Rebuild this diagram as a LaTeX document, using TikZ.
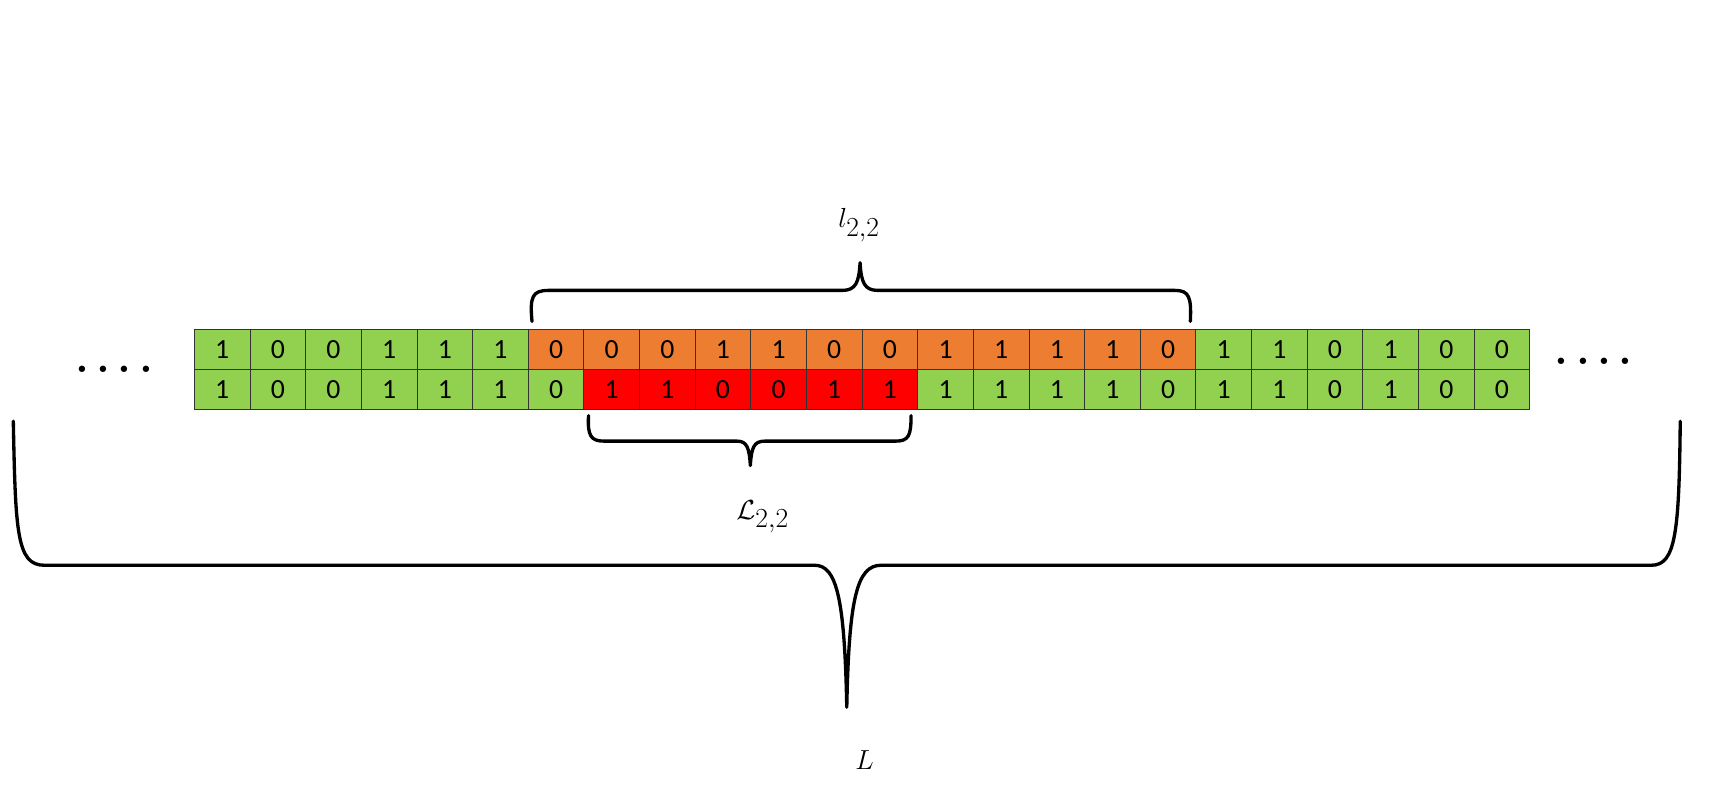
\documentclass[tikz,border=0pt]{standalone}
\usepackage{fontspec}
\newfontfamily\digitfont{Carlito}
\begin{document}
\begin{tikzpicture}[x=1pt,y=-1pt,
  cell/.style={draw=black!80,line width=0.8pt,minimum width=50.2pt,minimum height=36pt,inner sep=0,font=\digitfont\fontsize{25}{25}\selectfont,anchor=north west},
  brace/.style={line width=3pt,line cap=round,line join=round},
  lab/.style={font=\fontsize{44}{44}\selectfont}]
\useasboundingbox (0,0) rectangle (1560,724);
\definecolor{gr}{RGB}{146,208,80}
\definecolor{org}{RGB}{237,125,49}
\definecolor{rd}{RGB}{255,0,0}
\def\toprow{1,0,0,1,1,1,0,0,0,1,1,0,0,1,1,1,1,0,1,1,0,1,0,0}
\def\botrow{1,0,0,1,1,1,0,1,1,0,0,1,1,1,1,1,1,0,1,1,0,1,0,0}
\foreach \v [count=\i from 0] in \toprow {
  \ifnum\i<6 \def\c{gr}\else\ifnum\i<18 \def\c{org}\else\def\c{gr}\fi\fi
  \node[cell,fill=\c] (t\i) at (175+\i*50.2,297) {\v};
}
\foreach \v [count=\i from 0] in \botrow {
  \ifnum\i<7 \def\c{gr}\else\ifnum\i<13 \def\c{rd}\else\def\c{gr}\fi\fi
  \node[cell,fill=\c] (b\i) at (175+\i*50.2,333) {\v};
}
\node[font=\fontsize{40}{40}\selectfont] (dl) at (103,333) {\textbf{.\,.\,.\,.}};
\node[font=\fontsize{40}{40}\selectfont] (dr) at (1438,326) {\textbf{.\,.\,.\,.}};
% top brace
\draw[brace] (480,290) .. controls (478,268) and (480,262) .. (495,262) -- (760,262) .. controls (772,262) and (775,255) .. (776,237)
  .. controls (777,255) and (780,262) .. (792,262) -- (1060,262) .. controls (1073,262) and (1075,268) .. (1074,290);
\node[lab] (l) at (775,203) {$l_{2,2}$};
% small brace
\draw[brace] (531,375) .. controls (530,393) and (533,398) .. (545,398) -- (665,398) .. controls (674,398) and (676,404) .. (677,420)
  .. controls (678,404) and (680,398) .. (690,398) -- (808,398) .. controls (820,398) and (822,393) .. (822,375);
\node[lab] (L2) at (688,466) {$\mathcal{L}_{2,2}$};
% big brace
\draw[brace] (12,380) .. controls (14,480) and (15,510) .. (40,510) -- (735,510) .. controls (755,510) and (762,540) .. (764,638)
  .. controls (766,540) and (773,510) .. (795,510) -- (1490,510) .. controls (1512,510) and (1515,480) .. (1516,380);
\node[lab] (L) at (780,686) {$L$};
\end{tikzpicture}
\end{document}
